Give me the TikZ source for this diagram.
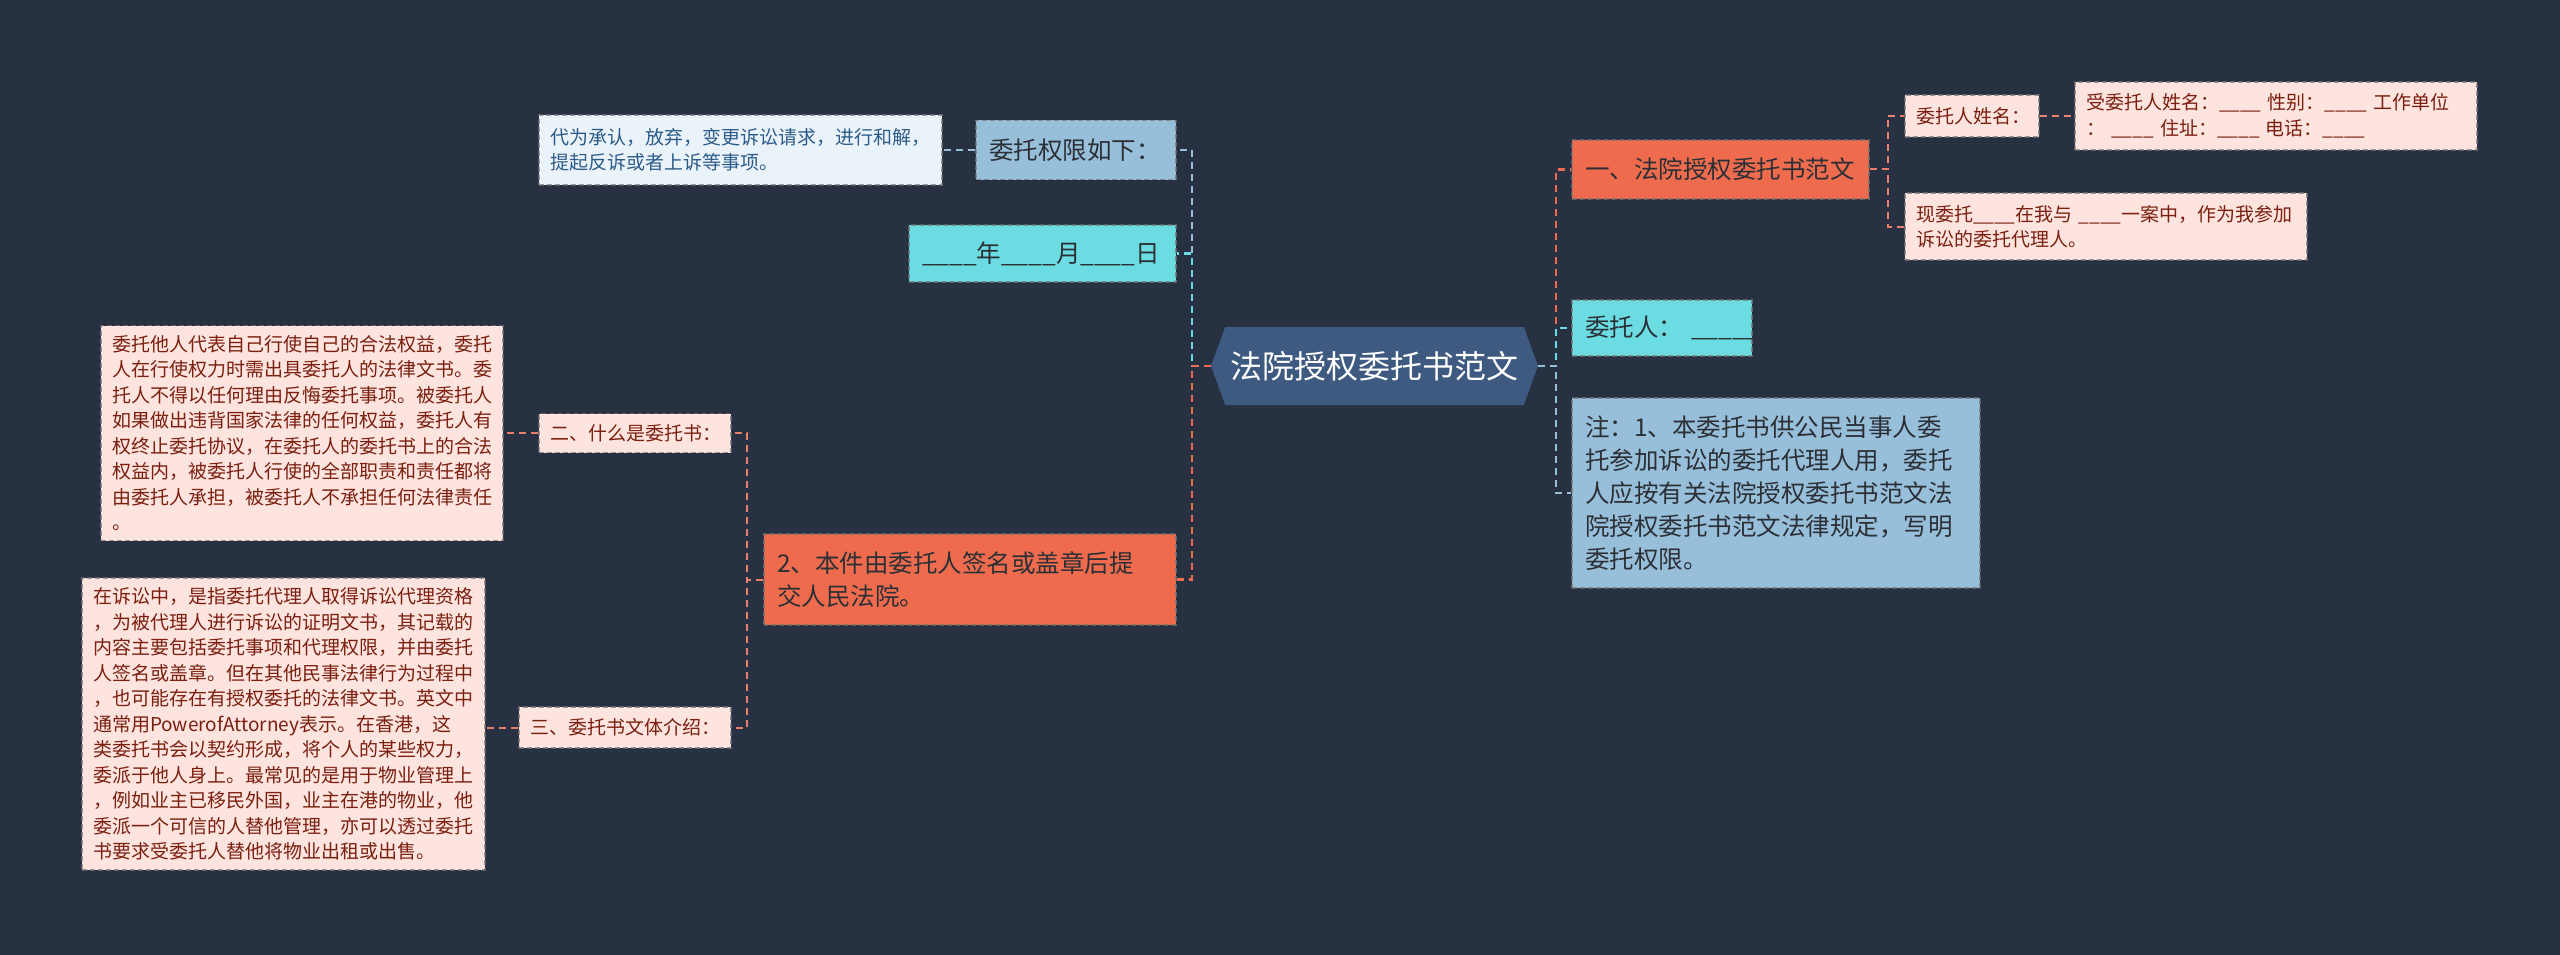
\documentclass[tikz,border=0pt]{standalone}
\usepackage{fontspec}
\setmainfont{Noto Sans CJK SC}
\usetikzlibrary{shapes.symbols}
\definecolor{bg}{HTML}{283142}
\definecolor{rootc}{HTML}{3E5A80}
\definecolor{orng}{HTML}{EE6C4D}
\definecolor{cyanc}{HTML}{6BDCE2}
\definecolor{lblue}{HTML}{98BFDA}
\definecolor{pinkc}{HTML}{FDE4DE}
\definecolor{pinkt}{HTML}{7B1F10}
\definecolor{paleb}{HTML}{EAF3FA}
\definecolor{palet}{HTML}{2C5B8A}
\definecolor{darkt}{HTML}{2B2F36}
\definecolor{salmon}{HTML}{E9806A}
\tikzset{
  box/.style={draw=black!55, draw opacity=0.7, dashed, dash pattern=on 5pt off 3pt, line width=1.2pt, align=left, inner ysep=0pt, anchor=center},
  big/.style={box, inner xsep=13pt, font=\fontsize{24.5}{33}\selectfont},
  small/.style={box, inner xsep=11pt, font=\fontsize{19}{25.5}\selectfont},
  orangebox/.style={big, fill=orng, text=darkt},
  cyanbox/.style={big, fill=cyanc, text=darkt},
  bluebox/.style={big, fill=lblue, text=darkt},
  pinkbox/.style={small, fill=pinkc, text=pinkt},
  palebox/.style={small, fill=paleb, text=palet},
  edge/.style={dashed, dash pattern=on 7pt off 5pt, line width=2.4pt},
  subedge/.style={dashed, dash pattern=on 7pt off 5pt, line width=2pt},
}
\begin{document}
\begin{tikzpicture}[x=1pt,y=-1pt]
\fill[bg] (0,0) rectangle (2560,955);
\useasboundingbox (0,0) rectangle (2560,955);

% root
\node[signal, signal to=west and east, signal pointer angle=140, fill=rootc, text=white,
  minimum width=327pt, minimum height=78pt, inner sep=0pt,
  font=\fontsize{32}{38}\selectfont] (root) at (1374.5,366) {法院授权委托书范文};

% left side
\node[bluebox, text width=174pt, minimum height=59pt] (A) at (1076,150) {委托权限如下：};
\node[palebox, text width=381pt, minimum height=70pt] (A1) at (740.5,150) {代为承认，放弃，变更诉讼请求，进行和解，\\提起反诉或者上诉等事项。};
\node[cyanbox, text width=241pt, minimum height=57pt] (B) at (1042.5,253.5) {\_\_\_\_年\_\_\_\_月\_\_\_\_日};
\node[orangebox, text width=386pt, minimum height=91pt] (C) at (970,579.5) {2、本件由委托人签名或盖章后提\\交人民法院。};
\node[pinkbox, text width=170pt, minimum height=39pt] (C1) at (635,433) {二、什么是委托书：};
\node[pinkbox, text width=380pt, minimum height=215pt] (C1a) at (302,433) {委托他人代表自己行使自己的合法权益，委托\\人在行使权力时需出具委托人的法律文书。委\\托人不得以任何理由反悔委托事项。被委托人\\如果做出违背国家法律的任何权益，委托人有\\权终止委托协议，在委托人的委托书上的合法\\权益内，被委托人行使的全部职责和责任都将\\由委托人承担，被委托人不承担任何法律责任\\。};
\node[pinkbox, text width=190pt, minimum height=41pt] (C2) at (625,727.5) {三、委托书文体介绍：};
\node[pinkbox, text width=381pt, minimum height=292pt] (C2a) at (283.5,724) {在诉讼中，是指委托代理人取得诉讼代理资格\\，为被代理人进行诉讼的证明文书，其记载的\\内容主要包括委托事项和代理权限，并由委托\\人签名或盖章。但在其他民事法律行为过程中\\，也可能存在有授权委托的法律文书。英文中\\通常用PowerofAttorney表示。在香港，这\\类委托书会以契约形成，将个人的某些权力，\\委派于他人身上。最常见的是用于物业管理上\\，例如业主已移民外国，业主在港的物业，他\\委派一个可信的人替他管理，亦可以透过委托\\书要求受委托人替他将物业出租或出售。};

% right side
\node[orangebox, text width=271pt, minimum height=59pt] (D) at (1720.5,169.5) {一、法院授权委托书范文};
\node[pinkbox, text width=112pt, minimum height=42pt] (D1) at (1972,116) {委托人姓名：};
\node[pinkbox, text width=380pt, minimum height=68pt] (D1a) at (2276,116) {受委托人姓名：\_\_\_\_~性别：\_\_\_\_~工作单位\\：~\_\_\_\_~住址：\_\_\_\_~电话：\_\_\_\_};
\node[pinkbox, text width=380pt, minimum height=67pt] (D2) at (2106,226.5) {现委托\_\_\_\_在我与~\_\_\_\_一案中，作为我参加\\诉讼的委托代理人。};
\node[cyanbox, text width=154pt, minimum height=56pt] (E) at (1662,328) {\mbox{委托人：~\_\_\_\_\_}};
\node[bluebox, text width=382pt, minimum height=190pt] (F) at (1776,493) {注：1、本委托书供公民当事人委\\托参加诉讼的委托代理人用，委托\\人应按有关法院授权委托书范文法\\院授权委托书范文法律规定，写明\\委托权限。};

% connectors left
\draw[edge, lblue] (root.west) -- ++(-19,0) |- (A.east);
\draw[edge, cyanc] (root.west) -- ++(-19,0) |- (B.east);
\draw[edge, orng] (root.west) -- ++(-19,0) |- (C.east);
\draw[subedge, lblue] (A.west) -- (A1.east);
\draw[subedge, salmon] (C.west) -- ++(-16,0) |- (C1.east);
\draw[subedge, salmon] (C.west) -- ++(-16,0) |- (C2.east);
\draw[subedge, salmon] (C1.west) -- (C1a.east);
\draw[subedge, salmon] (C2.west) -- (C2.west -| C2a.east);

% connectors right
\draw[edge, orng] (root.east) -- ++(18,0) |- (D.west);
\draw[edge, cyanc] (root.east) -- ++(18,0) |- (E.west);
\draw[edge, lblue] (root.east) -- ++(18,0) |- (F.west);
\draw[subedge, salmon] (D.east) -- ++(18,0) |- (D1.west);
\draw[subedge, salmon] (D.east) -- ++(18,0) |- (D2.west);
\draw[subedge, salmon] (D1.east) -- (D1a.west);
\end{tikzpicture}
\end{document}
